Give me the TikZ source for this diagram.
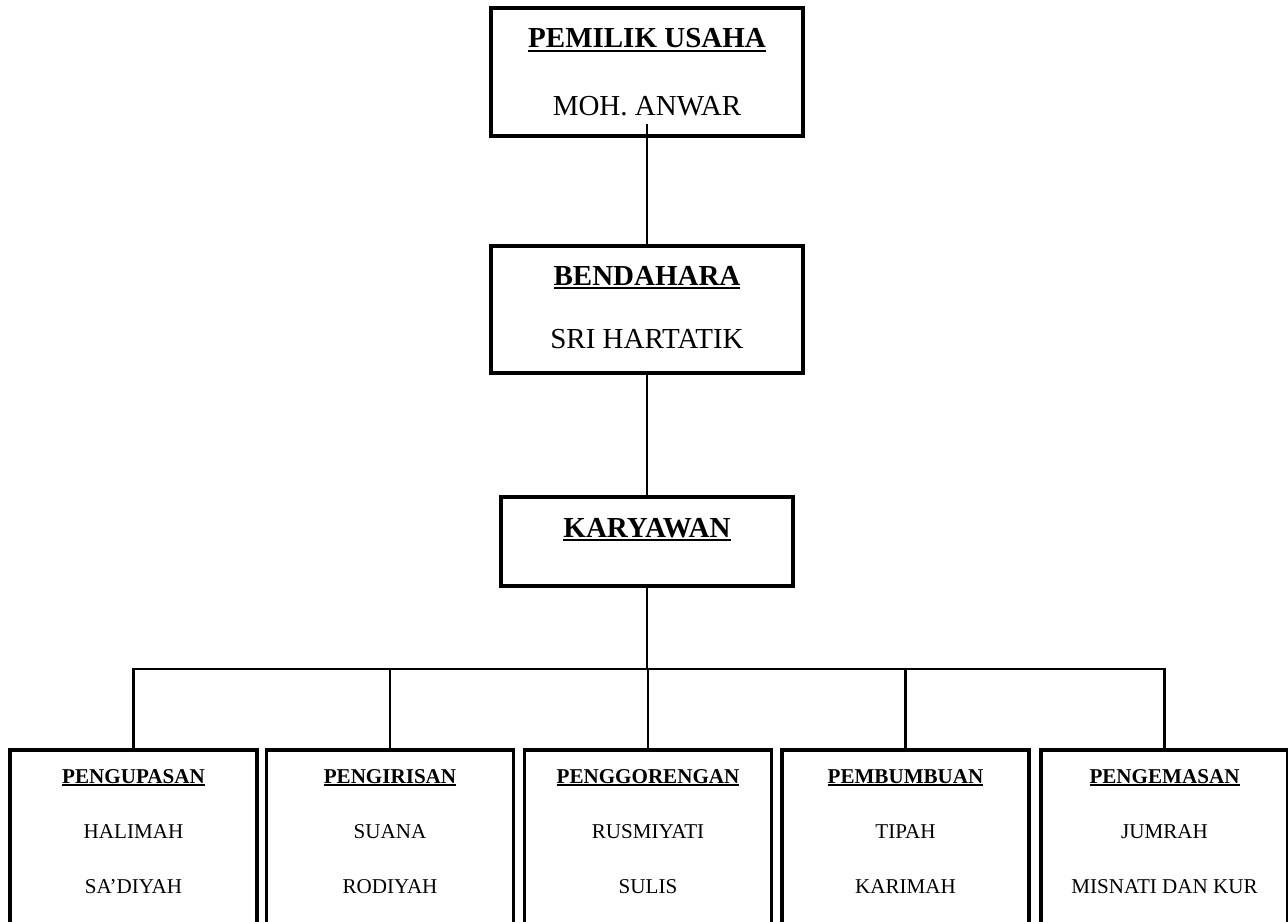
\documentclass[tikz,border=0pt]{standalone}
\usepackage{fontspec}
\setmainfont{Liberation Serif}
\usepackage{tikz}

\newcommand{\undertitle}[1]{\setbox0\hbox{\textbf{#1}}\leavevmode\rlap{\rule[-0.14em]{\wd0}{0.07em}}\box0}

\begin{document}
\begin{tikzpicture}[
  box/.style={draw, line width=1.8pt, inner sep=0pt},
  line/.style={line width=1.5pt},
  big/.style={anchor=base, inner sep=0pt, font=\fontsize{16.5}{19}\selectfont},
  small/.style={anchor=base, inner sep=0pt, font=\fontsize{12}{14}\selectfont}
]

\useasboundingbox (0,0) rectangle (25.76,-18.42);
\clip (0,0) rectangle (25.76,-18.42);

% top of the chart
\node[box, minimum width=6.24cm, minimum height=2.56cm] (pemilik) at (12.94,-1.44) {};
\node[big] (pemilik-t) at (12.94,-0.96) {\undertitle{PEMILIK USAHA}};
\node[big] (pemilik-n) at (12.94,-2.30) {MOH. ANWAR};

\node[box, minimum width=6.24cm, minimum height=2.54cm] (bendahara) at (12.94,-6.19) {};
\node[big] (bendahara-t) at (12.94,-5.70) {\undertitle{BENDAHARA}};
\node[big] (bendahara-n) at (12.94,-6.96) {SRI HARTATIK};

\node[box, minimum width=5.84cm, minimum height=1.78cm] (karyawan) at (12.94,-10.83) {};
\node[big] (karyawan-t) at (12.94,-10.74) {\undertitle{KARYAWAN}};

% the five sections
\foreach \x/\n/\t/\a/\b in {2.67/kupas/PENGUPASAN/HALIMAH/SA’DIYAH,
                             7.80/iris/PENGIRISAN/SUANA/RODIYAH,
                             12.96/goreng/PENGGORENGAN/RUSMIYATI/SULIS,
                             18.11/bumbu/PEMBUMBUAN/TIPAH/KARIMAH,
                             23.29/kemas/PENGEMASAN/JUMRAH/MISNATI DAN KUR}{
  \node[box, minimum width=4.94cm, minimum height=4cm] (\n) at (\x,-17) {};
  \node[small] (\n-t) at (\x,-15.66) {\undertitle{\t}};
  \node[small] (\n-a) at (\x,-16.76) {\a};
  \node[small] (\n-b) at (\x,-17.86) {\b};
}

\draw[line] ([yshift=0.28cm]pemilik.south) -- (bendahara);
\draw[line] (bendahara) -- (karyawan);

\coordinate (bus) at (12.94,-13.38);
\draw[line] (karyawan) -- (bus);
\draw[line] (kupas.north) |- (bus) -| (kemas.north);
\foreach \n in {iris,goreng,bumbu}
  \draw[line] (\n.north |- bus) -- (\n.north);

\end{tikzpicture}
\end{document}
